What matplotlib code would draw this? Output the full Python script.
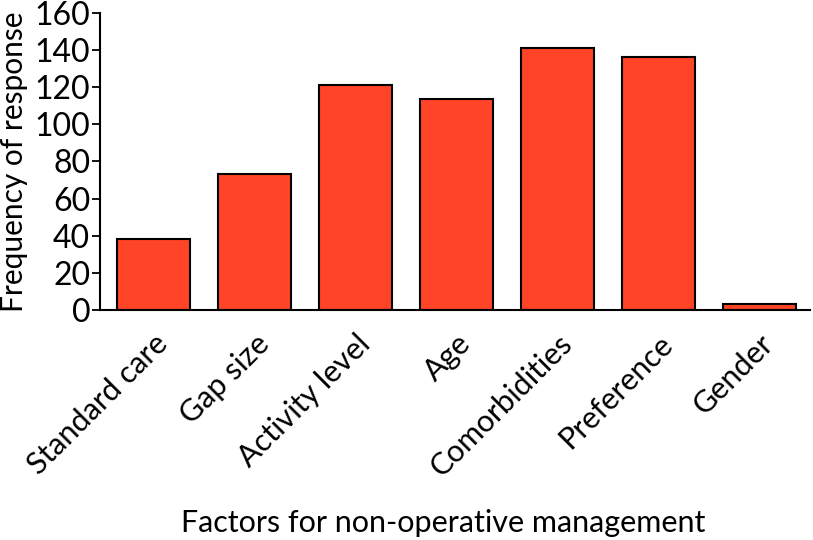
import matplotlib.pyplot as plt

categories = ['Standard care', 'Gap size', 'Activity level', 'Age',
              'Comorbidities', 'Preference', 'Gender']
frequency = [38, 73.5, 121, 113.5, 141, 136.5, 3]
y_ticks = [0, 20, 40, 60, 80, 100, 120, 140, 160]

plt.rcParams['font.family'] = ['Lato', 'DejaVu Sans']

fig = plt.figure(figsize=(8.13, 5.4), dpi=100)
ax = fig.add_axes([0.123, 0.426, 0.873, 0.55])

x = range(len(categories))
ax.bar(x, frequency, width=0.72, color='#FF4428', edgecolor='black', linewidth=1.5)

ax.set_xlim(-0.53, 6.5)
ax.set_ylim(0, 160)
ax.set_yticks(y_ticks)
ax.tick_params(axis='y', labelsize=23, length=6, width=1.3, pad=1)
ax.set_xticks(list(x))
ax.set_xticklabels(categories, rotation=45, ha='right', rotation_mode='anchor', fontsize=22)
ax.tick_params(axis='x', length=0, pad=14)

for s in ['top', 'right']:
    ax.spines[s].set_visible(False)
for s in ['left', 'bottom']:
    ax.spines[s].set_linewidth(1.5)

ax.set_ylabel('Frequency of response', fontsize=21.5, labelpad=5)
fig.text(0.545, 0.015, 'Factors for non-operative management', ha='center', fontsize=22)

fig.savefig('out.png', dpi=100)
